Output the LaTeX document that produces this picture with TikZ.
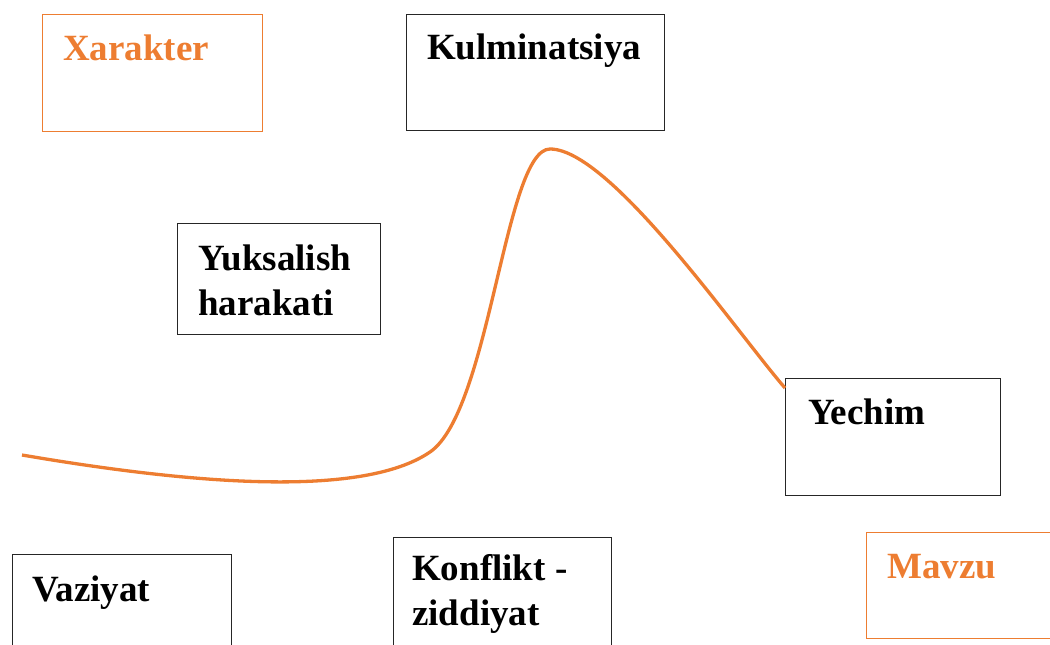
\documentclass[tikz,border=0pt]{standalone}
\usepackage{fontspec}
\setmainfont{Liberation Serif}
\usepackage{tikz}
\usetikzlibrary{calc, positioning}

\definecolor{accent}{HTML}{ED7D31}

\tikzset{
  frame/.style={draw=black!85, line width=1.3pt, anchor=north west, inner sep=0pt},
  oframe/.style={frame, draw=accent},
  word/.style={anchor=base west, inner sep=0pt, align=left,
    font=\fontsize{37}{45}\selectfont\bfseries},
  oword/.style={word, text=accent}
}

\begin{document}
\begin{tikzpicture}[x=1pt, y=-1pt]
  \useasboundingbox (0,0) rectangle (1050,645);

  % boxes
  \node (xarakter) [oframe, minimum width=220pt, minimum height=117pt] at (42,14) {};
  \node (kulminatsiya) [frame, minimum width=258pt, minimum height=116pt] at (406,14) {};
  \node (yuksalish) [frame, minimum width=203pt, minimum height=111pt] at (177,223) {};
  \node (yechim) [frame, minimum width=215pt, minimum height=117pt] at (785,378) {};
  \node (mavzu) [oframe, minimum width=200pt, minimum height=106pt] at (866,532) {};
  \node (vaziyat) [frame, minimum width=219pt, minimum height=150pt] at (12,554) {};
  \node (konflikt) [frame, minimum width=218pt, minimum height=150pt] at (393,537) {};

  % texts (base = last line)
  \node (xarakterlbl) [oword] at ($(xarakter.north west)+(21,46)$) {Xarakter};
  \node (kulminatsiyalbl) [word] at ($(kulminatsiya.north west)+(21,45)$) {Kulminatsiya};
  \node (yuksalishlbl) [word] at ($(yuksalish.north west)+(21,92)$) {Yuksalish\\harakati};
  \node (yechimlbl) [word] at ($(yechim.north west)+(23,46)$) {Yechim};
  \node (mavzulbl) [oword] at ($(mavzu.north west)+(21,46)$) {Mavzu};
  \node (vaziyatlbl) [word] at ($(vaziyat.north west)+(20,47)$) {Vaziyat};
  \node (konfliktlbl) [word] at ($(konflikt.north west)+(19,88)$) {Konflikt -\\ziddiyat};

  % plot line
  \coordinate (start) at (22,455);
  \coordinate (peak) at (550,149);
  \draw[accent, line width=3.3pt]
    (start) .. controls (180,482) and (360,500) .. (430,452)
            .. controls (490,411) and (505,149) .. (peak)
            .. controls (610,149) and (735,330) .. ([yshift=-10pt]yechim.north west);
\end{tikzpicture}
\end{document}
